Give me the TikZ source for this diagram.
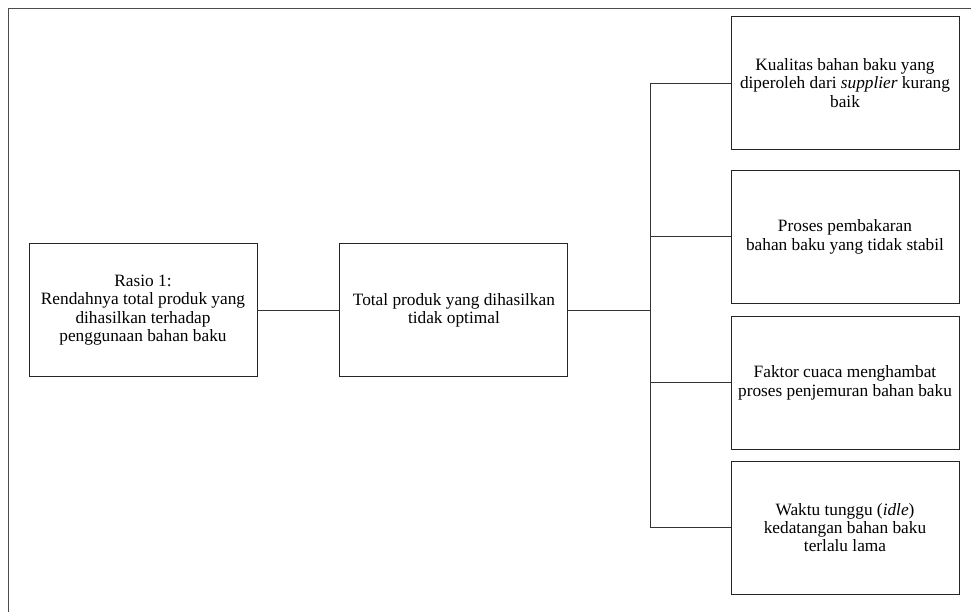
\documentclass[tikz,border=0pt]{standalone}
\usepackage{fontspec}
\setmainfont{Liberation Serif}
\usepackage{tikz}
\usetikzlibrary{positioning, calc}
\tikzset{
  box/.style={rectangle, draw=black!85, line width=0.9pt,
              minimum width=228pt, minimum height=133pt,
              inner sep=2pt, align=center,
              font=\fontsize{17.3}{18.3}\selectfont},
  link/.style={draw=black!80, line width=0.9pt},
  frame/.style={draw=black!70, line width=1.4pt},
}

\begin{document}
\begin{tikzpicture}[x=1pt, y=1pt]
  \useasboundingbox (0,0) rectangle (971,-612);
  %% outer frame (runs off the page on the right and bottom)
  \draw[frame] (8.5,-612) |- (971,-8.5);
  %% main chain
  \node[box] (rasio) at (143,-310)
    {Rasio 1:\\Rendahnya total produk yang\\dihasilkan terhadap\\penggunaan bahan baku};
  \node[box, right=82pt of rasio] (total)
    {Total produk yang dihasilkan\\tidak optimal};
  \coordinate[right=82pt of total] (cabang);
  %% causes
  \node[box] (kualitas) at (845,-83)
    {Kualitas bahan baku yang\\diperoleh dari \textit{supplier} kurang\\baik};
  \node[box, below=20pt of kualitas] (bakar)
    {Proses pembakaran\\bahan baku yang tidak stabil};
  \node[box, below=12pt of bakar] (cuaca)
    {Faktor cuaca menghambat\\proses penjemuran bahan baku};
  \node[box, below=11pt of cuaca] (tunggu)
    {Waktu tunggu (\textit{idle})\\kedatangan bahan baku\\terlalu lama};
  %% connectors
  \draw[link] (rasio) -- (total);
  \draw[link] (total) -- (cabang);
  \draw[link] (cabang |- kualitas.west) -- (cabang |- tunggu.west);
  \foreach \b in {kualitas,bakar,cuaca,tunggu}
    \draw[link] (cabang |- \b.west) -- (\b.west);
\end{tikzpicture}
\end{document}
